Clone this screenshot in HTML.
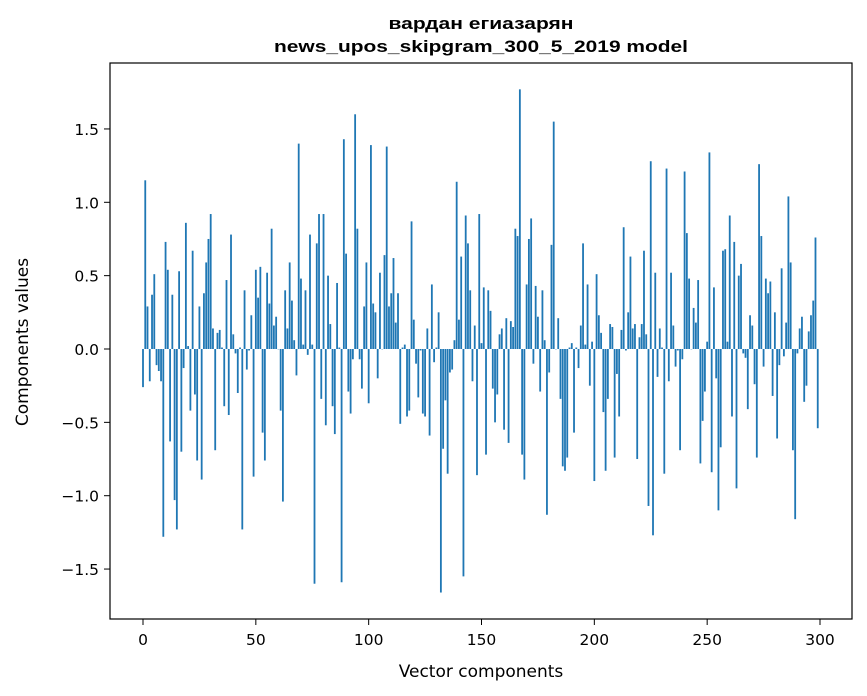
<!DOCTYPE html>
<html><head><meta charset="utf-8"><style>
html,body{margin:0;padding:0;background:#fff;}
svg{display:block;font-family:"DejaVu Sans","Liberation Sans",sans-serif;}
</style></head><body>
<svg id="chart" width="867" height="696" viewBox="0 0 867 696">
<rect width="867" height="696" fill="#fff"/>
<text x="481" y="29" text-anchor="middle" font-size="17" font-weight="bold" font-family="Liberation Sans, sans-serif" textLength="185" lengthAdjust="spacingAndGlyphs">вардан егиазарян</text>
<text x="481" y="52" text-anchor="middle" font-size="17" font-weight="bold" font-family="Liberation Sans, sans-serif" textLength="414" lengthAdjust="spacingAndGlyphs">news_upos_skipgram_300_5_2019 model</text>
<g id="bars"></g>
<g id="axes"></g>
<rect x="110" y="63" width="742" height="556" fill="none" stroke="#000" stroke-width="1.2"/>
<text x="481" y="677" text-anchor="middle" font-size="17">Vector components</text>
<text transform="translate(28,342) rotate(-90)" text-anchor="middle" font-size="17">Components values</text>
</svg>
<script>
const values = [-0.26,1.15,0.29,-0.22,0.37,0.51,-0.11,-0.15,-0.22,-1.28,0.73,0.54,-0.63,0.37,-1.03,-1.23,0.53,-0.70,-0.13,0.86,0.02,-0.42,0.67,-0.31,-0.76,0.29,-0.89,0.38,0.59,0.75,0.92,0.14,-0.69,0.11,0.13,0.01,-0.39,0.47,-0.45,0.78,0.10,-0.03,-0.30,0.01,-1.23,0.40,-0.14,-0.01,0.23,-0.87,
0.54,0.35,0.56,-0.57,-0.76,0.52,0.31,0.82,0.16,0.22,0.0,-0.42,-1.04,0.40,0.14,0.59,0.33,0.06,-0.18,1.40,0.48,0.03,0.40,-0.04,0.78,0.03,-1.60,0.72,0.92,-0.34,0.92,-0.52,0.50,0.17,-0.39,-0.58,0.45,0.01,-1.59,1.43,0.65,-0.29,-0.44,-0.07,1.60,0.82,-0.07,-0.27,0.29,
0.59,-0.37,1.39,0.31,0.25,-0.20,0.52,0.0,0.64,1.38,0.29,0.38,0.62,0.18,0.38,-0.51,0.01,0.03,-0.46,-0.42,0.87,0.20,-0.10,-0.33,-0.01,-0.44,-0.46,0.14,-0.59,0.44,-0.09,0.01,0.25,-1.66,-0.68,-0.35,-0.85,-0.16,-0.14,0.06,1.14,0.20,0.63,-1.55,0.91,0.72,0.40,-0.22,0.16,-0.86,
0.92,0.04,0.42,-0.72,0.40,0.26,-0.27,-0.50,-0.31,0.10,0.14,-0.55,0.21,-0.64,0.19,0.15,0.82,0.77,1.77,-0.72,-0.89,0.44,0.75,0.89,-0.10,0.43,0.22,-0.29,0.40,0.06,-1.13,-0.16,0.71,1.55,0.0,0.21,-0.34,-0.80,-0.83,-0.74,0.01,0.04,-0.57,0.01,-0.13,0.16,0.72,0.03,0.44,-0.25,
0.05,-0.90,0.51,0.23,0.11,-0.43,-0.83,-0.34,0.17,0.15,-0.74,-0.17,-0.46,0.13,0.83,-0.01,0.25,0.63,0.14,0.17,-0.75,0.08,0.17,0.67,0.10,-1.07,1.28,-1.27,0.52,-0.19,0.14,0.01,-0.85,1.23,-0.22,0.52,0.16,-0.12,-0.01,-0.69,-0.07,1.21,0.79,0.48,0.0,0.28,0.18,0.47,-0.78,
-0.49,-0.29,0.05,1.34,-0.84,0.42,-0.20,-1.10,-0.67,0.67,0.68,0.05,0.91,-0.46,0.73,-0.95,0.50,0.58,-0.03,-0.06,-0.41,0.23,0.16,-0.24,-0.74,1.26,0.77,-0.12,0.48,0.38,0.46,-0.32,0.25,-0.61,-0.11,0.55,-0.05,0.18,1.04,0.59,-0.69,-1.16,-0.03,0.14,0.22,-0.36,-0.25,0.12,0.23,0.33,0.76,-0.54];
const xTicks = [0,50,100,150,200,250,300];
const yTicks = [-1.5,-1.0,-0.5,0.0,0.5,1.0,1.5];
const yTickLabels = ["−1.5","−1.0","−0.5","0.0","0.5","1.0","1.5"];

const NS = "http://www.w3.org/2000/svg";
function xs(v){ return 143 + v * (677/300); }
function ys(v){ return 349 - v * 146.7; }
const bw = 0.8 * (677/300);
const gb = document.getElementById('bars');
values.forEach((v,i)=>{
  const r = document.createElementNS(NS,'rect');
  const y0 = ys(0), y1 = ys(v);
  r.setAttribute('x', xs(i) - bw/2);
  r.setAttribute('y', Math.min(y0,y1));
  r.setAttribute('width', bw);
  r.setAttribute('height', Math.max(Math.abs(y1-y0),0.3));
  r.setAttribute('fill', '#1f77b4');
  
  
  gb.appendChild(r);
});
const ga = document.getElementById('axes');
xTicks.forEach(t=>{
  const l = document.createElementNS(NS,'line');
  l.setAttribute('x1', xs(t)); l.setAttribute('x2', xs(t));
  l.setAttribute('y1', 619); l.setAttribute('y2', 625);
  l.setAttribute('stroke', '#000');
  
  
  ga.appendChild(l);
  const tx = document.createElementNS(NS,'text');
  tx.setAttribute('x', xs(t)); tx.setAttribute('y', 645);
  tx.setAttribute('text-anchor', 'middle'); tx.setAttribute('font-size', '15.5');
  tx.textContent = t;
  
  
  ga.appendChild(tx);
});
yTicks.forEach((t,i)=>{
  const l = document.createElementNS(NS,'line');
  l.setAttribute('x1', 104); l.setAttribute('x2', 110);
  l.setAttribute('y1', ys(t)); l.setAttribute('y2', ys(t));
  l.setAttribute('stroke', '#000');
  
  
  ga.appendChild(l);
  const tx = document.createElementNS(NS,'text');
  tx.setAttribute('x', 99); tx.setAttribute('y', ys(t) + 6);
  tx.setAttribute('text-anchor', 'end'); tx.setAttribute('font-size', '15.5');
  tx.textContent = yTickLabels[i];
  
  
  ga.appendChild(tx);
});
</script>
</body></html>
